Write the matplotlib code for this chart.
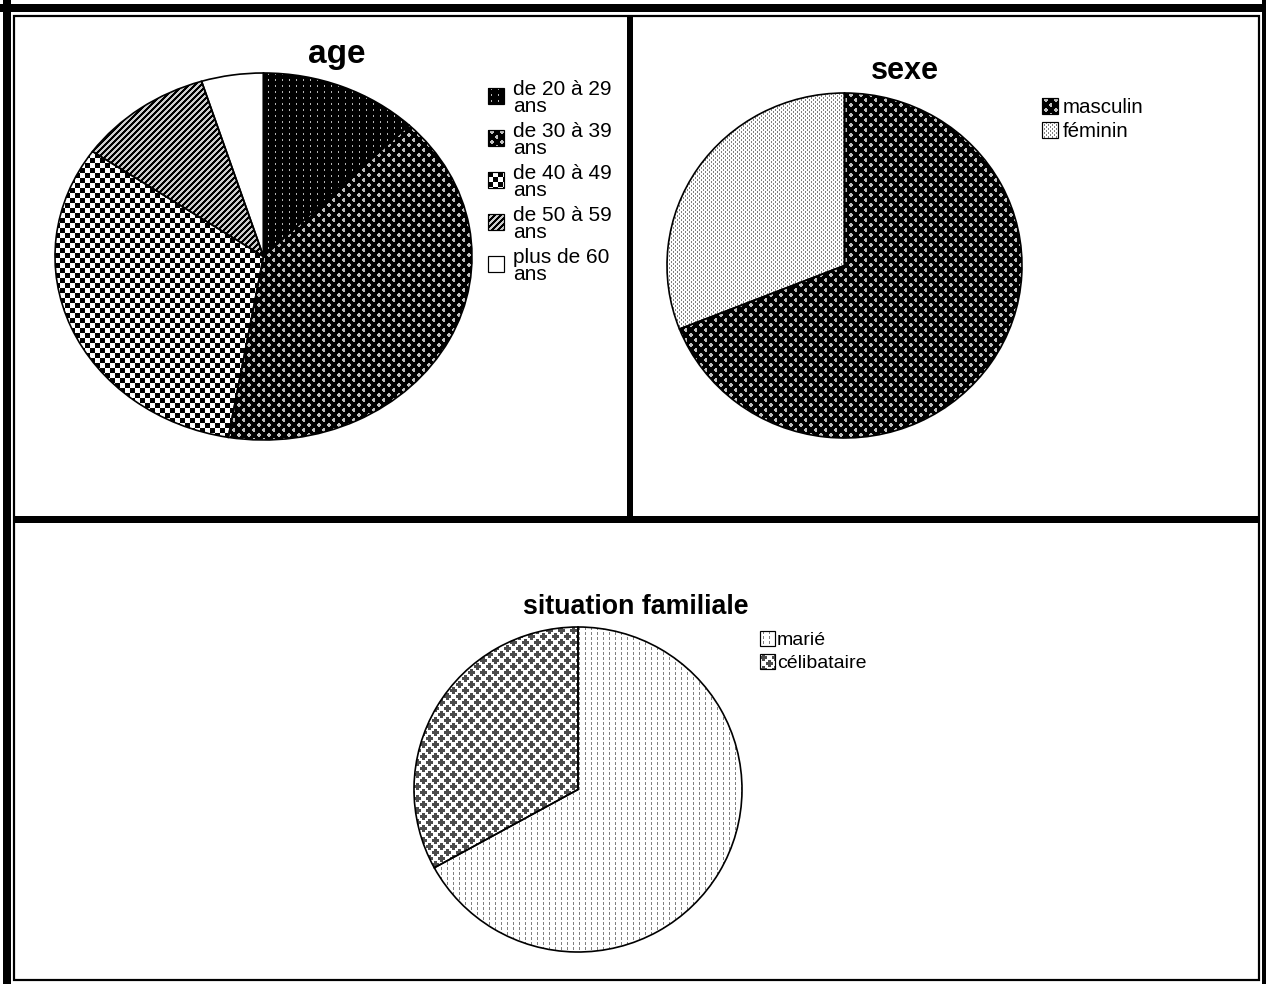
import numpy as np
import matplotlib
matplotlib.use("Agg")
import matplotlib.pyplot as plt
from matplotlib.patches import Rectangle

W, H = 1266, 984

AGE_LABELS = [("de 20 à 29", "ans"), ("de 30 à 39", "ans"), ("de 40 à 49", "ans"),
              ("de 50 à 59", "ans"), ("plus de 60", "ans")]
AGE_PCT = [12.3, 40.4, 32.0, 10.5, 4.8]

SEXE_LABELS = ["masculin", "féminin"]
SEXE_PCT = [69.0, 31.0]

SITU_LABELS = ["marié", "célibataire"]
SITU_PCT = [67.0, 33.0]

plt.rcParams["font.family"] = ["Liberation Sans", "DejaVu Sans"]


# --- fill patterns: grayscale arrays, 0 = black, 1 = white ---
def tile(rows, fg, bg):
    return np.array([[fg if ch == "#" else bg for ch in row] for row in rows])


# small light crosses on black
CROSS_SMALL = [
    "...##.....",
    "..####....",
    "..####....",
    "...##.....",
    "..........",
    "........##",
    ".......###",
    ".......###",
    "........##",
    "..........",
]


def cross_lattice(period, half_len, half_thick, fg, bg):
    # staggered lattice of plus signs
    r, c = np.mgrid[0:period, 0:period]
    t = np.full((period, period), bg, dtype=float)
    for cy, cx in [(period // 4, period // 4), (3 * period // 4, 3 * period // 4)]:
        dy = (r - cy + period // 2) % period - period // 2
        dx = (c - cx + period // 2) % period - period // 2
        m = ((abs(dy) <= half_len) & (abs(dx) <= half_thick)) | \
            ((abs(dx) <= half_len) & (abs(dy) <= half_thick))
        t[m] = fg
    return t


CROSS_BIG = cross_lattice(12, 3, 1, 0.3, 1.0)


def fill(t, h, w):
    th, tw = t.shape
    return np.tile(t, (h // th + 1, w // tw + 1))[:h, :w]


def pattern(name, h, w):
    r, c = np.mgrid[0:h, 0:w]
    if name == "dots_black":
        out = np.zeros((h, w))
        out[(c % 7 == 3) & (r % 6 < 2)] = 0.7
        return out
    if name == "cross_black":
        return fill(tile(CROSS_SMALL, 0.75, 0.0), h, w)
    if name == "cross_white":
        return fill(CROSS_BIG, h, w)
    if name == "checker":
        return (((r // 5) + (c // 5)) % 2).astype(float)
    if name == "diag":
        return np.where(((r + c) % 6) < 3, 0.0, 0.8)
    if name == "white":
        return np.ones((h, w))
    if name == "fine_dots":
        out = np.ones((h, w))
        out[(r % 4 < 2) & (c % 4 == 0)] = 0.5
        out[(r % 4 >= 2) & (c % 4 == 2)] = 0.5
        return out
    if name == "vdash":
        out = np.ones((h, w))
        out[(c % 6 == 3) & (r % 5 < 3)] = 0.5
        return out
    raise ValueError(name)


fig = plt.figure(figsize=(W / 100, H / 100), dpi=100)


def px_axes(x0, y0, x1, y1, **kw):
    return fig.add_axes([x0 / W, 1 - y1 / H, (x1 - x0) / W, (y1 - y0) / H], **kw)


def patterned_pie(box, values, patterns):
    x0, y0, x1, y1 = box
    ax = px_axes(x0, y0, x1, y1)
    wedges, _ = ax.pie(values, startangle=90, counterclock=False, radius=1,
                       wedgeprops=dict(facecolor="none", edgecolor="black", linewidth=1.2))
    ax.set_aspect("auto")
    ax.axis("off")
    hp, wp = int(y1 - y0), int(x1 - x0)
    for wdg, name in zip(wedges, patterns):
        wdg.set_clip_on(False)
        wdg.set_zorder(3)
        im = ax.imshow(pattern(name, hp, wp), cmap="gray", vmin=0, vmax=1,
                       extent=(-1, 1, -1, 1), interpolation="nearest", aspect="auto", zorder=1)
        im.set_clip_path(wdg)
    ax.set_xlim(-1, 1)
    ax.set_ylim(-1, 1)
    return ax


AGE_PAT = ["dots_black", "cross_black", "checker", "diag", "white"]
SEXE_PAT = ["cross_black", "fine_dots"]
SITU_PAT = ["vdash", "cross_white"]

patterned_pie((55, 73, 472, 440), AGE_PCT, AGE_PAT)
patterned_pie((667, 93, 1022, 438), SEXE_PCT, SEXE_PAT)
patterned_pie((414, 627, 742, 952), SITU_PCT, SITU_PAT)

# overlay in pixel coordinates: frames, titles, legends
ov = fig.add_axes([0, 0, 1, 1], zorder=10)
ov.patch.set_visible(False)
ov.axis("off")

k = 0.72  # px -> pt


def swatch(x, y, s, name):
    ov.imshow(pattern(name, s, s), cmap="gray", vmin=0, vmax=1,
              extent=(x, x + s, y + s, y), interpolation="nearest", aspect="auto", zorder=2)
    ov.add_patch(Rectangle((x, y), s, s, fill=False, edgecolor="black", lw=1.2 * k, zorder=3))


# age legend
for i, (l1, l2) in enumerate(AGE_LABELS):
    y = 88 + 42 * i
    swatch(488, y, 16, AGE_PAT[i])
    ov.text(513, y + 7, l1, fontsize=15, va="baseline", ha="left")
    ov.text(513, y + 24, l2, fontsize=15, va="baseline", ha="left")

# sexe legend
for i, lab in enumerate(SEXE_LABELS):
    y = 98 + 24 * i
    swatch(1042, y, 16, SEXE_PAT[i])
    ov.text(1063, y + 15, lab, fontsize=14.8, va="baseline", ha="left")

# situation legend
for i, lab in enumerate(SITU_LABELS):
    y = 631 + 23 * i
    swatch(760, y, 15, SITU_PAT[i])
    ov.text(777, y + 14, lab, fontsize=14, va="baseline", ha="left")

ov.text(337, 63, "age", fontsize=24, fontweight="bold", ha="center", va="baseline")
ov.text(905, 79, "sexe", fontsize=22, fontweight="bold", ha="center", va="baseline")
ov.text(636, 614, "situation familiale", fontsize=19.3, fontweight="bold", ha="center", va="baseline")

# table frame
ov.add_patch(Rectangle((3, 0), 8, H, color="black", lw=0))
ov.add_patch(Rectangle((0, 4), W, 8, color="black", lw=0))
ov.add_patch(Rectangle((1262, 0), 4, H, color="black", lw=0))
ov.add_patch(Rectangle((14, 16), 1245, 964, fill=False, edgecolor="black", lw=2.2 * k))
ov.add_patch(Rectangle((14, 516), 1245, 7, color="black", lw=0))
ov.add_patch(Rectangle((627, 16), 6, 502, color="black", lw=0))

ov.set_xlim(0, W)
ov.set_ylim(H, 0)

fig.savefig("out.png", dpi=100)
